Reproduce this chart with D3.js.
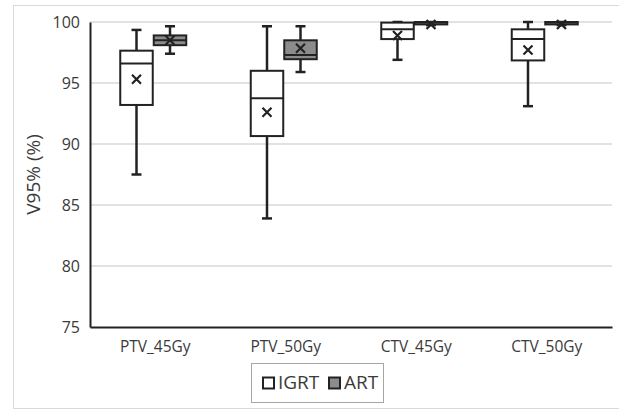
<!DOCTYPE html>
<html>
<head>
<meta charset="utf-8">
<script src="https://cdn.jsdelivr.net/npm/d3@7"></script>
<style>
  body { margin: 0; background: #fff; }
  text { font-family: "Open Sans", sans-serif; fill: #3a3a3a; }
</style>
</head>
<body>
<div id="chart"></div>
<script>
var categories = ["PTV_45Gy", "PTV_50Gy", "CTV_45Gy", "CTV_50Gy"];
var seriesNames = ["IGRT", "ART"];
var seriesColors = ["#ffffff", "#8c8c8c"];
var yTicks = [75, 80, 85, 90, 95, 100];

// [min, q1, median, q3, max, mean] per category
var igrt = [
    [87.5, 93.2, 96.6, 97.65, 99.35, 95.3],
    [83.9, 90.65, 93.75, 96.0, 99.65, 92.6],
    [96.9, 98.6, 99.4, 99.95, 100, 98.9],
    [93.1, 96.85, 98.6, 99.4, 100, 97.7]
];
var art = [
    [97.4, 98.1, 98.5, 98.9, 99.65, 98.5],
    [95.9, 96.95, 97.3, 98.5, 99.65, 97.85],
    [99.75, 99.8, 99.95, 100, 100, 99.8],
    [99.75, 99.8, 99.95, 100, 100, 99.8]
];

var width = 619, height = 411;
var margin = { left: 90, right: 7, top: 22, bottom: 84 };

var svg = d3.select("#chart")
    .append("svg")
    .attr("width", width)
    .attr("height", height);

// outer chart border
svg.append("rect")
    .attr("x", 13.5)
    .attr("y", 5.5)
    .attr("width", 620)
    .attr("height", 403)
    .attr("fill", "none")
    .attr("stroke", "#d9d9d9");

var x = d3.scaleBand()
    .domain(categories)
    .range([margin.left, width - margin.right]);

var xs = d3.scaleBand()
    .domain(seriesNames)
    .range([x.bandwidth() / 2 - 35, x.bandwidth() / 2 + 31])
    .paddingInner(0.03);

var y = d3.scaleLinear()
    .domain([75, 100])
    .range([height - margin.bottom, margin.top]);

// gridlines
svg.append("g")
    .selectAll("line")
    .data(yTicks.filter(d => d > 75))
    .enter().append("line")
    .attr("x1", margin.left)
    .attr("x2", width - margin.right)
    .attr("y1", d => y(d))
    .attr("y2", d => y(d))
    .style("stroke", "#d9d9d9")
    .style("stroke-width", 1.5);

// y axis
var yAxis = svg.append("g")
    .attr("transform", "translate(" + margin.left + ",0)")
    .call(d3.axisLeft(y).tickValues(yTicks).tickSize(0).tickPadding(10));
yAxis.select(".domain").style("stroke", "#222").style("stroke-width", 2);
yAxis.selectAll("text").style("font-size", "16px").style("font-family", "Open Sans");

// x axis
var xAxis = svg.append("g")
    .attr("transform", "translate(0," + y(75) + ")")
    .call(d3.axisBottom(x).tickSize(0).tickPadding(14));
xAxis.select(".domain").style("stroke", "#222").style("stroke-width", 2);
xAxis.selectAll("text").style("font-size", "15.5px").style("font-family", "Open Sans");

svg.append("text")
    .attr("transform", "translate(40," + (y(87.5)) + ") rotate(-90)")
    .attr("text-anchor", "middle")
    .style("font-size", "19px")
    .text("V95% (%)");

function drawBoxes(data, name, color) {
    var bw = xs.bandwidth();
    var g = svg.append("g")
        .selectAll("g")
        .data(data)
        .enter().append("g")
        .attr("transform", (d, i) => "translate(" + (x(categories[i]) + xs(name)) + ",0)");

    // whisker
    g.append("line")
        .attr("x1", bw / 2).attr("x2", bw / 2)
        .attr("y1", d => y(d[0])).attr("y2", d => y(d[4]))
        .style("stroke", "#222").style("stroke-width", 2.5);
    // caps
    g.append("line")
        .attr("x1", bw / 2 - 5).attr("x2", bw / 2 + 5)
        .attr("y1", d => y(d[0])).attr("y2", d => y(d[0]))
        .style("stroke", "#222").style("stroke-width", 2.5);
    g.append("line")
        .attr("x1", bw / 2 - 5).attr("x2", bw / 2 + 5)
        .attr("y1", d => y(d[4])).attr("y2", d => y(d[4]))
        .style("stroke", "#222").style("stroke-width", 2.5);
    // box
    g.append("rect")
        .attr("x", 0)
        .attr("width", bw)
        .attr("y", d => y(d[3]))
        .attr("height", d => y(d[1]) - y(d[3]))
        .style("fill", color)
        .style("stroke", "#222")
        .style("stroke-width", 2);
    // median
    g.append("line")
        .attr("x1", 0).attr("x2", bw)
        .attr("y1", d => y(d[2])).attr("y2", d => y(d[2]))
        .style("stroke", "#222").style("stroke-width", 2);
    // mean marker
    g.append("path")
        .attr("d", d => {
            var cx = bw / 2, cy = y(d[5]), s = 4.5;
            return "M" + (cx - s) + "," + (cy - s) + "L" + (cx + s) + "," + (cy + s) +
                "M" + (cx - s) + "," + (cy + s) + "L" + (cx + s) + "," + (cy - s);
        })
        .style("stroke", "#222")
        .style("stroke-width", 2.2);
}

drawBoxes(igrt, "IGRT", seriesColors[0]);
drawBoxes(art, "ART", seriesColors[1]);

// legend
var legend = svg.append("g");
legend.append("rect")
    .attr("x", 251.5).attr("y", 363.5)
    .attr("width", 132).attr("height", 39)
    .attr("fill", "#fff")
    .attr("stroke", "#a6a6a6");

var legendX = [263, 329];
seriesNames.forEach((name, i) => {
    legend.append("rect")
        .attr("x", legendX[i]).attr("y", 377.5)
        .attr("width", 11).attr("height", 11)
        .style("fill", seriesColors[i])
        .style("stroke", "#222")
        .style("stroke-width", 2);
    legend.append("text")
        .attr("x", legendX[i] + 15).attr("y", 383.5)
        .attr("dominant-baseline", "middle")
        .style("font-size", "19px")
        .text(name);
});
</script>
</body>
</html>
